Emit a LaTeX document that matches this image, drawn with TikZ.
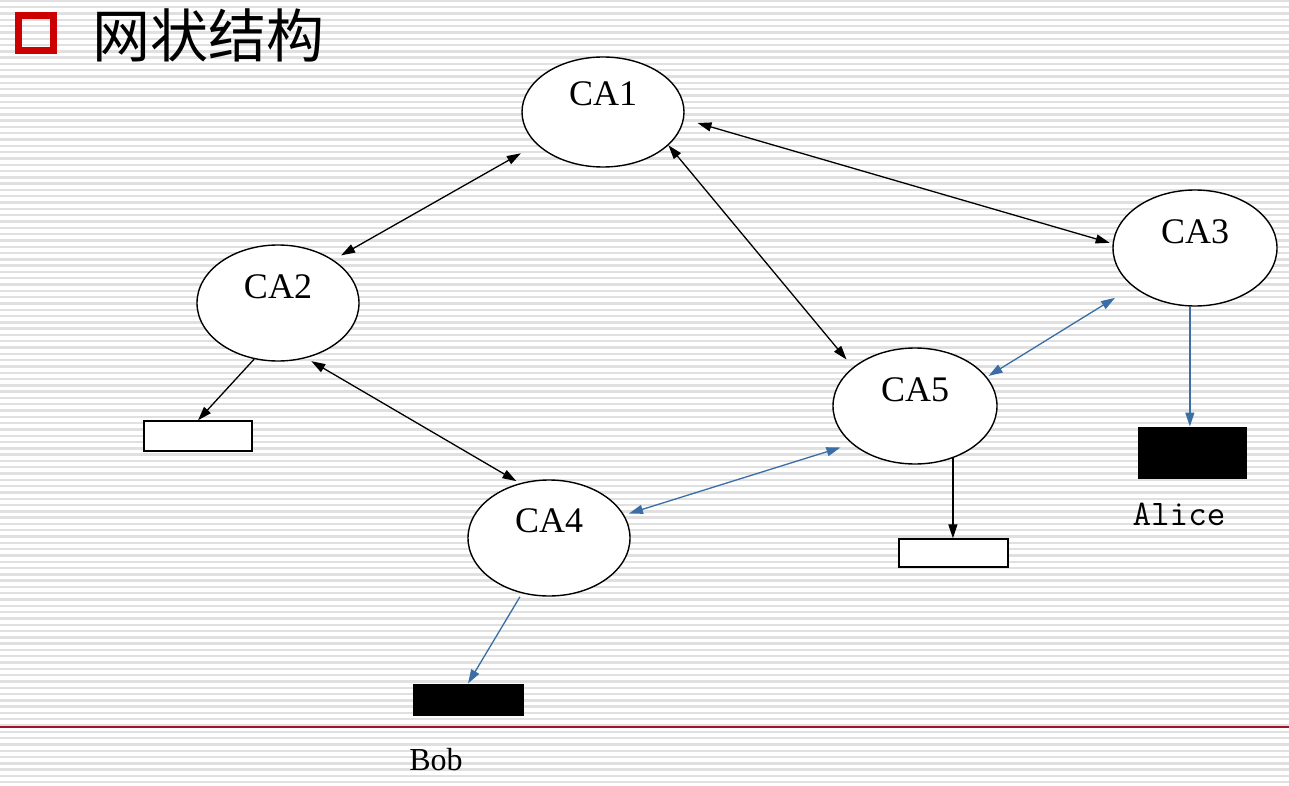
\documentclass[tikz,border=0pt]{standalone}
\usepackage{fontspec}
\setmainfont{Liberation Serif}
\newfontfamily\cjk{Noto Sans CJK SC}
\usetikzlibrary{arrows.meta,shapes.geometric}
\definecolor{bl}{RGB}{58,110,165}
\definecolor{titlered}{RGB}{204,0,0}
\definecolor{rulered}{RGB}{160,20,45}
\definecolor{stripe}{RGB}{224,224,224}
\begin{document}
\begin{tikzpicture}[x=1pt,y=-1pt,
  ca/.style={draw, ellipse, fill=white, line width=1.4pt, minimum width=162pt, minimum height=116pt, inner sep=0pt},
  catext/.style={font=\fontsize{36}{40}\selectfont, inner sep=0pt},
  wbox/.style={draw, fill=white, line width=1.4pt, inner sep=0pt},
  bbox/.style={draw, fill=black, line width=1pt, inner sep=0pt},
  tip/.tip={Triangle[length=14pt,width=9pt]},
  dconn/.style={line width=1.3pt, tip-tip},
  sconn/.style={line width=1.3pt, -tip}
]
\useasboundingbox (0,0) rectangle (1289,786);
\fill[white] (0,0) rectangle (1289,786);
\foreach \i in {0,...,125} \draw[stripe, line width=2.4pt] (0,{\i*6.3+1}) -- (1289,{\i*6.3+1});

% title
\node[draw=titlered, line width=7pt, minimum size=35pt, inner sep=0pt] (sq) at (36,33) {};
\node[font=\cjk\fontsize{58}{60}\selectfont, inner sep=0pt, anchor=west] (title) at (92,35) {网状结构};

% rule
\coordinate (rl) at (0,727);
\coordinate (rr) at (1289,727);
\draw[rulered, line width=2pt] (rl) -- (rr);

% CA nodes
\node[ca, minimum height=110pt] (CA1) at (603,112) {};
\node[ca] (CA2) at (278,303) {};
\node[ca, minimum width=164pt] (CA3) at (1195,248) {};
\node[ca, minimum width=164pt] (CA5) at (915,406) {};
\node[ca] (CA4) at (549,538) {};
\node[catext] (t1) at ([yshift=18pt]CA1.center) {CA1};
\node[catext] (t2) at ([yshift=16pt]CA2.center) {CA2};
\node[catext] (t3) at ([yshift=16pt]CA3.center) {CA3};
\node[catext] (t5) at ([yshift=16pt]CA5.center) {CA5};
\node[catext] (t4) at ([yshift=17pt]CA4.center) {CA4};

% boxes
\node[wbox, minimum width=108pt, minimum height=30pt] (box2) at (198,436) {};
\node[wbox, minimum width=109pt, minimum height=28pt] (box5) at (953.5,553) {};
\node[bbox, minimum width=108pt, minimum height=51pt] (alice) at (1192,452.5) {};
\node[bbox, minimum width=110pt, minimum height=31pt] (bob) at (468,699.5) {};
\node[font=\ttfamily\fontsize{36}{40}\selectfont, inner sep=0pt] (alicet) at (1179,514) {Alice};
\node[font=\fontsize{32}{36}\selectfont, inner sep=0pt] (bobt) at (436,760) {Bob};

% connectors
\draw[dconn, shorten <=18pt, shorten >=9pt] (CA1.206) -- (CA2.38);
\draw[dconn, shorten <=14pt, shorten >=3pt] (CA1.355) -- (CA3.177);
\draw[dconn, shorten >=10pt] (CA1.333) -- (CA5.148);
\draw[dconn, shorten <=6pt, shorten >=4pt] (CA2.297) -- (CA4.118);
\draw[sconn] (CA2.247) -- (box2.north);
\draw[dconn, bl, shorten <=21pt, shorten >=2pt] (CA3.212) -- (CA5.22);
\draw[dconn, bl, shorten <=5pt, shorten >=12pt] (CA4.17) -- (CA5.211);
\draw[sconn, bl] (CA3.265) -- (CA3.265 |- alice.north);
\draw[sconn] (CA5.306) -- (CA5.306 |- box5.north);
\draw[sconn, bl, shorten <=4pt] (CA4.244) -- (bob.north);
\end{tikzpicture}
\end{document}
